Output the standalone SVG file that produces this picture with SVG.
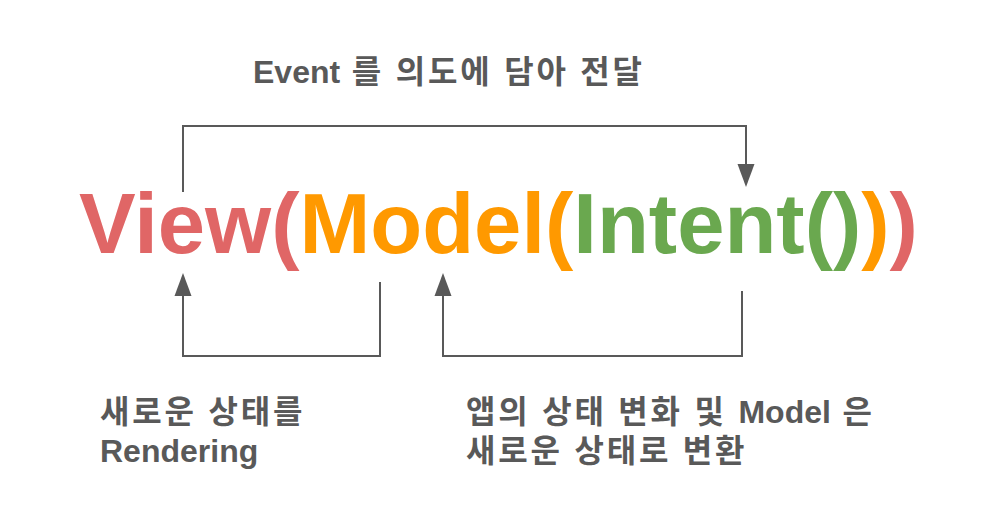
<svg xmlns="http://www.w3.org/2000/svg" width="1001" height="516" viewBox="0 0 1001 516">
<style>
.lbl{font-family:"Liberation Sans","Noto Sans CJK KR",sans-serif;font-weight:bold;font-size:32px;fill:#595959}
.ko{letter-spacing:2.8px}
.main{font-family:"Liberation Sans",Arial,sans-serif;font-weight:bold;font-size:85px}
.c{fill:none;stroke:#595959;stroke-width:2;stroke-linejoin:miter}
</style>
<defs>
<marker id="ah" markerUnits="userSpaceOnUse" markerWidth="24" markerHeight="18" refX="0" refY="8.5" orient="auto" overflow="visible">
<path d="M0,0 L23,8.5 L0,17 z" fill="#595959"/>
</marker>
</defs>
<rect width="1001" height="516" fill="#ffffff"/>
<g id="title">
<text class="lbl" x="253" y="83">Event<tspan class="ko"> 를 의도에 담아 전달</tspan></text>
</g>
<g id="expression">
<text class="main" x="79" y="253"><tspan fill="#E06666">View(</tspan><tspan fill="#FF9900">Model(</tspan><tspan fill="#6AA84F">Intent()</tspan><tspan fill="#FF9900">)</tspan><tspan fill="#E06666">)</tspan></text>
</g>
<g id="label-left">
<text class="lbl ko" x="100" y="423">새로운 상태를</text>
<text class="lbl" x="100" y="462">Rendering</text>
</g>
<g id="label-right">
<text class="lbl" x="466" y="423"><tspan class="ko">앱의 상태 변화 및 </tspan>Model<tspan class="ko"> 은</tspan></text>
<text class="lbl ko" x="466" y="462">새로운 상태로 변환</text>
</g>
<g id="connectors">
<polyline class="c" points="183,192 183,126 746,126 746,164" marker-end="url(#ah)"/>
<polyline class="c" points="380,282 380,356 183,356 183,296" marker-end="url(#ah)"/>
<polyline class="c" points="742,291 742,356 443,356 443,296" marker-end="url(#ah)"/>
</g>
</svg>
